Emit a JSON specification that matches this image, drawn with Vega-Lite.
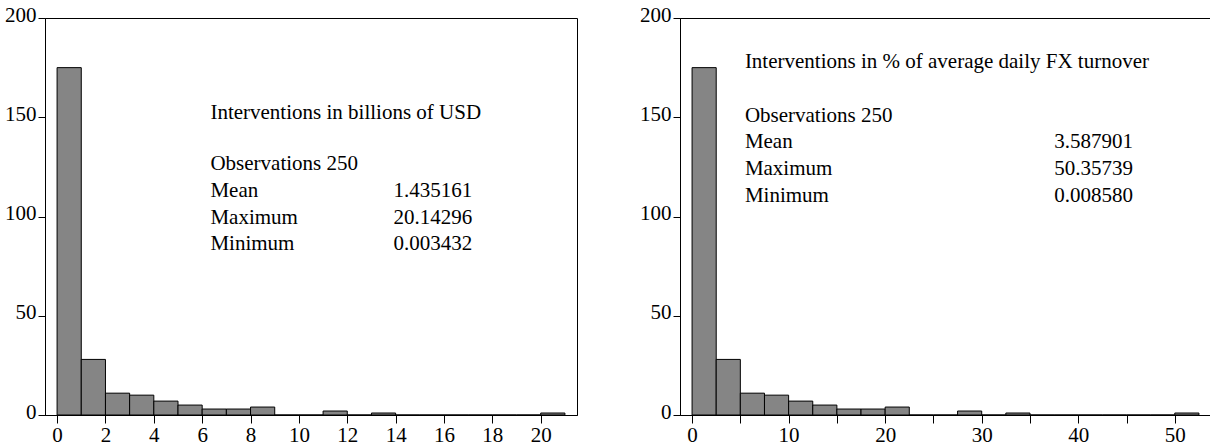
{
  "$schema": "https://vega.github.io/schema/vega-lite/v6.json",
  "autosize": {"type": "pad"},
  "padding": {"left": 4, "top": 3, "right": 0, "bottom": 0},
  "spacing": 61,
  "background": "white",
  "config": {
    "view": {"stroke": "black", "strokeWidth": 1},
    "font": "Liberation Serif",
    "axis": {
      "labelFont": "Liberation Serif",
      "labelFontSize": 21,
      "labelColor": "black",
      "domainColor": "black",
      "tickColor": "black",
      "domainWidth": 1,
      "tickWidth": 1,
      "grid": false,
      "title": null,
      "labelFlush": false,
      "labelOverlap": false
    },
    "axisY": {"tickSize": 7, "labelPadding": 2, "labelBaseline": "middle", "labelOffset": -3},
    "axisX": {"tickSize": 8, "labelPadding": 1}
  },
  "datasets": {
    "usd": [
      {"bin_start": 0, "bin_end": 1, "count": 175},
      {"bin_start": 1, "bin_end": 2, "count": 28},
      {"bin_start": 2, "bin_end": 3, "count": 11},
      {"bin_start": 3, "bin_end": 4, "count": 10},
      {"bin_start": 4, "bin_end": 5, "count": 7},
      {"bin_start": 5, "bin_end": 6, "count": 5},
      {"bin_start": 6, "bin_end": 7, "count": 3},
      {"bin_start": 7, "bin_end": 8, "count": 3},
      {"bin_start": 8, "bin_end": 9, "count": 4},
      {"bin_start": 9, "bin_end": 10, "count": 0},
      {"bin_start": 10, "bin_end": 11, "count": 0},
      {"bin_start": 11, "bin_end": 12, "count": 2},
      {"bin_start": 12, "bin_end": 13, "count": 0},
      {"bin_start": 13, "bin_end": 14, "count": 1},
      {"bin_start": 14, "bin_end": 15, "count": 0},
      {"bin_start": 15, "bin_end": 16, "count": 0},
      {"bin_start": 16, "bin_end": 17, "count": 0},
      {"bin_start": 17, "bin_end": 18, "count": 0},
      {"bin_start": 18, "bin_end": 19, "count": 0},
      {"bin_start": 19, "bin_end": 20, "count": 0},
      {"bin_start": 20, "bin_end": 21, "count": 1}
    ],
    "pct": [
      {"bin_start": 0, "bin_end": 2.5, "count": 175},
      {"bin_start": 2.5, "bin_end": 5, "count": 28},
      {"bin_start": 5, "bin_end": 7.5, "count": 11},
      {"bin_start": 7.5, "bin_end": 10, "count": 10},
      {"bin_start": 10, "bin_end": 12.5, "count": 7},
      {"bin_start": 12.5, "bin_end": 15, "count": 5},
      {"bin_start": 15, "bin_end": 17.5, "count": 3},
      {"bin_start": 17.5, "bin_end": 20, "count": 3},
      {"bin_start": 20, "bin_end": 22.5, "count": 4},
      {"bin_start": 22.5, "bin_end": 25, "count": 0},
      {"bin_start": 25, "bin_end": 27.5, "count": 0},
      {"bin_start": 27.5, "bin_end": 30, "count": 2},
      {"bin_start": 30, "bin_end": 32.5, "count": 0},
      {"bin_start": 32.5, "bin_end": 35, "count": 1},
      {"bin_start": 35, "bin_end": 37.5, "count": 0},
      {"bin_start": 37.5, "bin_end": 40, "count": 0},
      {"bin_start": 40, "bin_end": 42.5, "count": 0},
      {"bin_start": 42.5, "bin_end": 45, "count": 0},
      {"bin_start": 45, "bin_end": 47.5, "count": 0},
      {"bin_start": 47.5, "bin_end": 50, "count": 0},
      {"bin_start": 50, "bin_end": 52.5, "count": 1}
    ],
    "usd_stats": [
      {"title": "Interventions in billions of USD", "labels": "Observations 250\nMean\nMaximum\nMinimum", "values": "1.435161\n20.14296\n0.003432"}
    ],
    "pct_stats": [
      {"title": "Interventions in % of average daily FX turnover", "labels": "Observations 250\nMean\nMaximum\nMinimum", "values": "3.587901\n50.35739\n0.008580"}
    ]
  },
  "hconcat": [
    {
      "width": 532,
      "height": 397,
      "layer": [
        {
          "data": {"name": "usd"},
          "mark": {"type": "rect", "fill": "#858585", "stroke": "black", "strokeWidth": 1},
          "encoding": {
            "x": {
              "field": "bin_start", "type": "quantitative",
              "scale": {"domain": [-0.5, 21.5], "nice": false, "zero": false},
              "axis": {"values": [0,1,2,3,4,5,6,7,8,9,10,11,12,13,14,15,16,17,18,19,20,21], "labelExpr": "datum.value % 2 === 0 ? datum.label : ''"}
            },
            "x2": {"field": "bin_end"},
            "y": {
              "field": "count", "type": "quantitative",
              "scale": {"domain": [0, 200], "nice": false},
              "axis": {"values": [0, 50, 100, 150, 200]}
            },
            "y2": {"datum": 0}
          }
        },
        {
          "data": {"name": "usd_stats"},
          "mark": {"type": "text", "align": "left", "baseline": "alphabetic", "fontSize": 21, "font": "Liberation Serif", "color": "black"},
          "encoding": {"x": {"datum": 6.34}, "y": {"datum": 149}, "text": {"field": "title", "type": "nominal"}}
        },
        {
          "data": {"name": "usd_stats"},
          "mark": {"type": "text", "align": "left", "baseline": "alphabetic", "fontSize": 21, "font": "Liberation Serif", "color": "black", "lineBreak": "\n", "lineHeight": 26.7},
          "encoding": {"x": {"datum": 6.34}, "y": {"datum": 123.3}, "text": {"field": "labels", "type": "nominal"}}
        },
        {
          "data": {"name": "usd_stats"},
          "mark": {"type": "text", "align": "left", "baseline": "alphabetic", "fontSize": 21, "font": "Liberation Serif", "color": "black", "lineBreak": "\n", "lineHeight": 26.7},
          "encoding": {"x": {"datum": 13.91}, "y": {"datum": 109.85}, "text": {"field": "values", "type": "nominal"}}
        }
      ]
    },
    {
      "width": 531,
      "height": 397,
      "layer": [
        {
          "data": {"name": "pct"},
          "mark": {"type": "rect", "fill": "#858585", "stroke": "black", "strokeWidth": 1},
          "encoding": {
            "x": {
              "field": "bin_start", "type": "quantitative",
              "scale": {"domain": [-1.25, 53.75], "nice": false, "zero": false},
              "axis": {"values": [0,2.5,5,7.5,10,12.5,15,17.5,20,22.5,25,27.5,30,32.5,35,37.5,40,42.5,45,47.5,50,52.5], "labelExpr": "datum.value % 10 === 0 ? datum.label : ''"}
            },
            "x2": {"field": "bin_end"},
            "y": {
              "field": "count", "type": "quantitative",
              "scale": {"domain": [0, 200], "nice": false},
              "axis": {"values": [0, 50, 100, 150, 200]}
            },
            "y2": {"datum": 0}
          }
        },
        {
          "data": {"name": "pct_stats"},
          "mark": {"type": "text", "align": "left", "baseline": "alphabetic", "fontSize": 21, "font": "Liberation Serif", "color": "black"},
          "encoding": {"x": {"datum": 5.47}, "y": {"datum": 174.8}, "text": {"field": "title", "type": "nominal"}}
        },
        {
          "data": {"name": "pct_stats"},
          "mark": {"type": "text", "align": "left", "baseline": "alphabetic", "fontSize": 21, "font": "Liberation Serif", "color": "black", "lineBreak": "\n", "lineHeight": 26.7},
          "encoding": {"x": {"datum": 5.47}, "y": {"datum": 147.8}, "text": {"field": "labels", "type": "nominal"}}
        },
        {
          "data": {"name": "pct_stats"},
          "mark": {"type": "text", "align": "left", "baseline": "alphabetic", "fontSize": 21, "font": "Liberation Serif", "color": "black", "lineBreak": "\n", "lineHeight": 26.7},
          "encoding": {"x": {"datum": 37.52}, "y": {"datum": 134.35}, "text": {"field": "values", "type": "nominal"}}
        }
      ]
    }
  ]
}
